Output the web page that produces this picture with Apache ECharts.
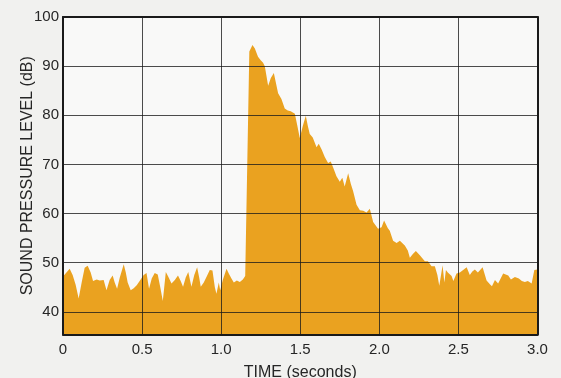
<!DOCTYPE html>
<html>
<head>
<meta charset="utf-8">
<script src="https://cdn.jsdelivr.net/npm/echarts@6/dist/echarts.min.js"></script>
<style>
  html, body { margin: 0; padding: 0; background: #f1f1ef; }
  #chart { width: 561px; height: 378px; }
</style>
</head>
<body>
<div id="chart"></div>
<script>
// Sound pressure level over time: background noise, a sudden burst near 1.2 s, then decay.
const times = [
  0.000, 0.042, 0.061, 0.080, 0.099, 0.118, 0.137, 0.156, 0.175, 0.190,
  0.213, 0.232, 0.257, 0.275, 0.295, 0.314, 0.327, 0.342, 0.359, 0.384,
  0.397, 0.409, 0.428, 0.447, 0.466, 0.491, 0.510, 0.528, 0.544, 0.561,
  0.580, 0.599, 0.615, 0.631, 0.650, 0.665, 0.686, 0.707, 0.727, 0.744,
  0.759, 0.776, 0.792, 0.812, 0.830, 0.848, 0.861, 0.871, 0.890, 0.907,
  0.928, 0.945, 0.960, 0.970, 0.985, 0.994, 1.010, 1.034, 1.048, 1.065,
  1.080, 1.099, 1.118, 1.137, 1.152, 1.162, 1.178, 1.198, 1.213, 1.233,
  1.250, 1.265, 1.276, 1.297, 1.314, 1.333, 1.345, 1.360, 1.381, 1.402,
  1.421, 1.440, 1.466, 1.481, 1.497, 1.516, 1.535, 1.548, 1.560, 1.579,
  1.603, 1.617, 1.636, 1.655, 1.676, 1.693, 1.708, 1.729, 1.750, 1.766,
  1.781, 1.803, 1.820, 1.834, 1.856, 1.877, 1.898, 1.919, 1.930, 1.940,
  1.961, 1.992, 2.014, 2.030, 2.054, 2.066, 2.087, 2.109, 2.130, 2.140,
  2.161, 2.180, 2.193, 2.212, 2.231, 2.256, 2.288, 2.307, 2.330, 2.351,
  2.367, 2.379, 2.400, 2.411, 2.421, 2.433, 2.457, 2.468, 2.488, 2.509,
  2.530, 2.552, 2.572, 2.588, 2.604, 2.623, 2.653, 2.664, 2.678, 2.699,
  2.712, 2.731, 2.751, 2.783, 2.815, 2.832, 2.857, 2.882, 2.901, 2.920,
  2.939, 2.963, 2.971, 2.980, 3.000
];

const levels = [
  47.2, 48.8, 47.5, 45.5, 42.7, 46.0, 49.0, 49.4, 48.0, 46.3,
  46.6, 46.4, 46.5, 44.4, 46.5, 47.4, 46.0, 44.7, 47.0, 49.7,
  48.0, 46.0, 44.4, 44.8, 45.4, 46.6, 47.5, 47.9, 44.7, 46.8,
  47.9, 47.6, 45.0, 42.2, 48.1, 47.2, 45.8, 46.5, 47.4, 46.3,
  45.1, 47.0, 48.1, 45.1, 47.5, 49.1, 47.0, 45.1, 46.0, 47.1,
  48.5, 48.4, 45.0, 43.7, 46.0, 44.4, 46.5, 48.8, 47.8, 46.8,
  46.0, 46.4, 46.1, 46.6, 47.3, 47.5, 93.0, 94.3, 93.6, 91.9,
  91.2, 90.7, 90.0, 86.0, 87.6, 88.6, 86.8, 84.5, 83.3, 81.4,
  81.0, 80.8, 80.3, 78.0, 75.4, 77.8, 79.9, 77.8, 76.2, 75.5,
  73.5, 74.2, 73.0, 71.5, 70.3, 70.6, 69.4, 67.6, 66.5, 67.3,
  65.5, 68.2, 66.0, 64.6, 61.8, 60.7, 60.6, 60.2, 60.4, 61.0,
  58.3, 56.9, 57.2, 58.6, 57.0, 56.5, 54.5, 54.0, 54.5, 54.9,
  53.5, 52.5, 51.0, 51.8, 52.4, 51.5, 50.3, 50.3, 49.3, 49.3,
  47.5, 45.3, 49.5, 46.0, 48.5, 48.0, 47.3, 46.3, 47.8, 48.0,
  48.5, 49.1, 47.5, 48.2, 48.6, 48.0, 49.1, 49.5, 46.4, 45.6,
  45.2, 46.5, 45.8, 47.8, 47.4, 46.6, 47.1, 46.8, 46.3, 46.1,
  46.3, 45.8, 45.4, 48.5, 48.6
];

const Y_MIN = 35.4;
const Y_MAX = 100;

const chart = echarts.init(document.getElementById('chart'), null, { renderer: 'canvas' });

const labelFont = { fontFamily: 'Liberation Sans, Arial, sans-serif', fontSize: 15, color: '#262626' };
const titleFont = Object.assign({}, labelFont, { fontSize: 16 });
const gridLine = { show: true, lineStyle: { color: 'rgba(25,25,25,0.78)', width: 1 } };
const frameLine = { show: true, onZero: false, lineStyle: { color: '#1a1a1a', width: 2 } };

chart.setOption({
  backgroundColor: '#f1f1ef',
  animation: false,
  grid: {
    left: 63, top: 17, right: 23.5, bottom: 43.5,
    outerBoundsMode: 'none',
    show: true, backgroundColor: '#f9f9f8', borderWidth: 0
  },
  xAxis: [{
    type: 'value', min: 0, max: 3, interval: 0.5, z: 5,
    name: 'TIME (seconds)', nameLocation: 'middle', nameGap: 30,
    nameTextStyle: titleFont,
    axisLine: frameLine, axisTick: { show: false },
    axisLabel: Object.assign({}, labelFont, {
      margin: 8,
      formatter: v => (v === 0 ? '0' : v.toFixed(1))
    }),
    splitLine: gridLine
  }, {
    type: 'value', min: 0, max: 3, position: 'top', z: 5,
    axisLine: frameLine, axisTick: { show: false },
    axisLabel: { show: false }, splitLine: { show: false }
  }],
  yAxis: [{
    type: 'value', min: Y_MIN, max: Y_MAX, splitNumber: 6, z: 5,
    name: 'SOUND PRESSURE LEVEL (dB)', nameLocation: 'middle', nameGap: 27,
    nameMoveOverlap: false,
    nameTextStyle: titleFont,
    axisLine: frameLine, axisTick: { show: false },
    axisLabel: Object.assign({}, labelFont, {
      margin: 4,
      formatter: v => (v % 10 === 0 ? String(v) : '')
    }),
    splitLine: gridLine
  }, {
    type: 'value', min: Y_MIN, max: Y_MAX, position: 'right', z: 5,
    axisLine: frameLine, axisTick: { show: false },
    axisLabel: { show: false }, splitLine: { show: false }
  }],
  series: [{
    type: 'line',
    data: times.map((t, i) => [t, levels[i]]),
    showSymbol: false,
    lineStyle: { width: 0 },
    areaStyle: { color: '#eaa220', opacity: 1, origin: 'start' },
    z: 2
  }]
});
</script>
</body>
</html>
